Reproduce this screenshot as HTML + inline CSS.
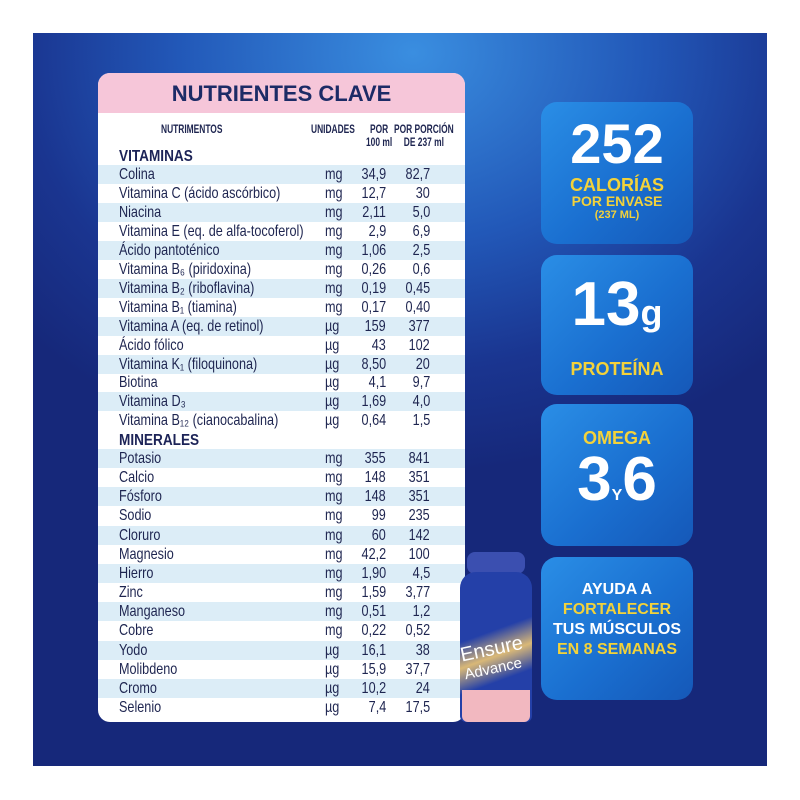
<!DOCTYPE html>
<html><head><meta charset="utf-8"><style>
*{margin:0;padding:0;box-sizing:border-box}
body{width:800px;height:800px;background:#fff;position:relative;overflow:hidden;font-family:"Liberation Sans",sans-serif}
.bg{position:absolute;left:33px;top:33px;width:734px;height:733px;background:radial-gradient(ellipse 520px 420px at 380px 20px,#3a8ee0 0%,#2258b8 45%,#1a3590 75%,#16287a 100%)}
.card{position:absolute;left:98px;top:73px;width:367px;height:649px;background:#fff;border-radius:12px;overflow:hidden}
.hd{position:absolute;left:0;top:0;width:100%;height:40px;background:#f6c6d9;color:#1c2b66;font:bold 22px "Liberation Sans",sans-serif;text-align:center;line-height:42px}
.row{position:absolute;left:0;width:100%;height:19px;font-size:16px;color:#1e2550;line-height:19px}
.row.s{background:#dcedf7}
.row span{position:absolute;top:0;transform:scaleX(.79);white-space:nowrap}
.n{left:21px;transform-origin:left}.u{left:227px;transform-origin:left}.a{right:79px;transform-origin:right}.b{right:35px;transform-origin:right}
.sec{position:absolute;left:21px;font-weight:bold;font-size:16px;color:#1c2357;transform:scaleX(.85);transform-origin:left}
.ch{position:absolute;font-weight:bold;font-size:12px;color:#1e2550;line-height:13px;text-align:center;transform:scaleX(.7);transform-origin:left;white-space:nowrap}
.box{position:absolute;left:541px;width:152px;border-radius:16px;background:linear-gradient(135deg,#2a8ee6,#1a6fd0 55%,#1558b8);color:#fff;text-align:center;font-family:"Liberation Sans",sans-serif;font-weight:bold}
.y{color:#f3d23a}
</style></head><body>
<div class="bg"></div>
<div class="card">
<div class="hd">NUTRIENTES CLAVE</div>
<div class="ch" style="left:63px;top:50px">NUTRIMENTOS</div>
<div class="ch" style="left:213px;top:50px">UNIDADES</div>
<div class="ch" style="left:268px;top:50px">POR<br>100 ml</div>
<div class="ch" style="left:296px;top:50px">POR PORCIÓN<br>DE 237 ml</div>
<div class="sec" style="top:75px">VITAMINAS</div>
<div class="sec" style="top:359px">MINERALES</div>
<div id="rows"></div>
</div>
<div class="box" style="top:102px;height:142px"><div style="font-size:56px;line-height:56px;margin-top:14px">252</div><div class="y" style="font-size:18px;line-height:18px;margin-top:4px">CALORÍAS</div><div class="y" style="font-size:14px;line-height:15px">POR ENVASE</div><div class="y" style="font-size:11px;line-height:13px">(237 ML)</div></div>
<div class="box" style="top:255px;height:140px"><div style="font-size:62px;line-height:60px;margin-top:20px">13<span style="font-size:36px">g</span></div><div class="y" style="font-size:18px;margin-top:16px">PROTEÍNA</div></div>
<div class="box" style="top:404px;height:142px"><div class="y" style="font-size:18px;margin-top:24px">OMEGA</div><div style="font-size:62px;line-height:62px;margin-top:0px">3<span style="font-size:16px">Y</span>6</div></div>
<div class="box" style="top:557px;height:143px"><div style="font-size:16px;line-height:20px;margin-top:23px">AYUDA A<br><span class="y">FORTALECER</span><br>TUS MÚSCULOS<br><span class="y">EN 8 SEMANAS</span></div></div>
<div style="position:absolute;left:467px;top:552px;width:58px;height:22px;background:#3b4fb0;border-radius:8px"></div>
<div style="position:absolute;left:460px;top:572px;width:72px;height:150px;background:linear-gradient(160deg,#2440a8 40%,#d9b877 55%,#2440a8 70%);border-radius:16px 16px 6px 6px"></div>
<div style="position:absolute;left:462px;top:690px;width:68px;height:32px;background:#f2b8c0;border-radius:0 0 6px 6px"></div>
<div style="position:absolute;left:462px;top:640px;color:#fff;font:20px 'Liberation Sans',sans-serif;transform:rotate(-12deg);line-height:18px">Ensure<br><span style="font-size:15px">Advance</span></div>
<script>
var v=[["Colina","mg","34,9","82,7"],["Vitamina C (ácido ascórbico)","mg","12,7","30"],["Niacina","mg","2,11","5,0"],["Vitamina E (eq. de alfa-tocoferol)","mg","2,9","6,9"],["Ácido pantoténico","mg","1,06","2,5"],["Vitamina B₆ (piridoxina)","mg","0,26","0,6"],["Vitamina B₂ (riboflavina)","mg","0,19","0,45"],["Vitamina B₁ (tiamina)","mg","0,17","0,40"],["Vitamina A (eq. de retinol)","µg","159","377"],["Ácido fólico","µg","43","102"],["Vitamina K₁ (filoquinona)","µg","8,50","20"],["Biotina","µg","4,1","9,7"],["Vitamina D₃","µg","1,69","4,0"],["Vitamina B₁₂ (cianocabalina)","µg","0,64","1,5"]];
var m=[["Potasio","mg","355","841"],["Calcio","mg","148","351"],["Fósforo","mg","148","351"],["Sodio","mg","99","235"],["Cloruro","mg","60","142"],["Magnesio","mg","42,2","100"],["Hierro","mg","1,90","4,5"],["Zinc","mg","1,59","3,77"],["Manganeso","mg","0,51","1,2"],["Cobre","mg","0,22","0,52"],["Yodo","µg","16,1","38"],["Molibdeno","µg","15,9","37,7"],["Cromo","µg","10,2","24"],["Selenio","µg","7,4","17,5"]];
var h="";
function add(a,t0,st){a.forEach(function(r,i){h+='<div class="row'+(i%2==0?' s':'')+'" style="top:'+(t0+i*st)+'px"><span class="n">'+r[0]+'</span><span class="u">'+r[1]+'</span><span class="a">'+r[2]+'</span><span class="b">'+r[3]+'</span></div>';});}
add(v,92,18.95);add(m,376,19.15);
document.getElementById("rows").innerHTML=h;
</script>
</body></html>
